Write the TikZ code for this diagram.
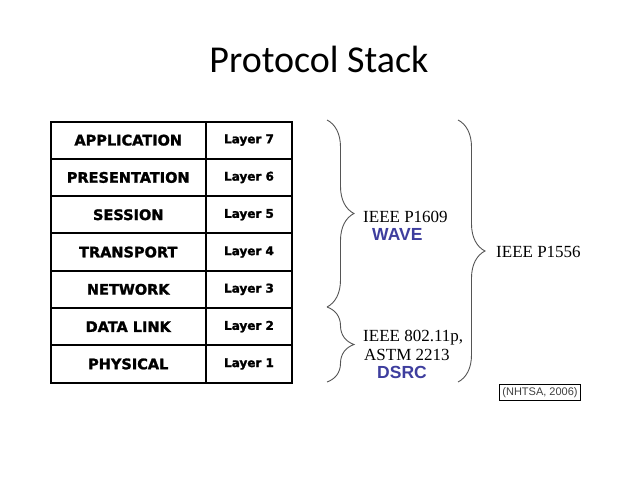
\documentclass[tikz,border=0pt]{standalone}
\usepackage{fontspec}
\usepackage{tikz}
\usetikzlibrary{positioning, decorations.pathreplacing}

\newfontfamily\titlefont{Carlito}
\newfontfamily\cellfont[FakeBold=1.6]{DejaVu Sans Bold}
\newfontfamily\seriffont{Liberation Serif}
\newfontfamily\armfont{Liberation Sans}

\definecolor{waveblue}{RGB}{62,62,158}
\definecolor{bracegray}{RGB}{85,85,85}

\begin{document}
\begin{tikzpicture}[
  x=1pt, y=-1pt,
  namecell/.style={draw, line width=2pt, outer sep=0pt, inner sep=0pt,
    minimum width=155.5pt, minimum height=37.3pt,
    font=\cellfont\fontsize{14.5}{16}\selectfont},
  layercell/.style={draw, line width=2pt, outer sep=0pt, inner sep=0pt,
    minimum width=86pt, minimum height=37.3pt,
    font=\cellfont\fontsize{12}{14}\selectfont},
  stdtext/.style={anchor=base west, inner sep=0pt, font=\seriffont\fontsize{17}{19}\selectfont},
  tagtext/.style={anchor=base west, inner sep=0pt, text=waveblue,
    font=\armfont\bfseries\fontsize{17.5}{19}\selectfont},
  curly/.style={draw=bracegray, line width=0.9pt, decorate,
    decoration={brace, amplitude=27pt}}
  ]

  \useasboundingbox[fill=white] (0,0) rectangle (638,479);

  % Title
  \node[anchor=base, inner sep=0pt, font=\titlefont\fontsize{38}{40}\selectfont] (title) at (319,72) {Protocol Stack};

  % Stack (layer names)
  \node[namecell, anchor=north west] (app) at (50.5,121.5) {APPLICATION};
  \node[namecell, below=0pt of app] (pres) {PRESENTATION};
  \node[namecell, below=0pt of pres] (sess) {SESSION};
  \node[namecell, below=0pt of sess] (trans) {TRANSPORT};
  \node[namecell, below=0pt of trans] (net) {NETWORK};
  \node[namecell, below=0pt of net] (link) {DATA LINK};
  \node[namecell, below=0pt of link] (phys) {PHYSICAL};

  % Stack (layer numbers)
  \node[layercell, right=0pt of app] (l7) {Layer 7};
  \node[layercell, right=0pt of pres] (l6) {Layer 6};
  \node[layercell, right=0pt of sess] (l5) {Layer 5};
  \node[layercell, right=0pt of trans] (l4) {Layer 4};
  \node[layercell, right=0pt of net] (l3) {Layer 3};
  \node[layercell, right=0pt of link] (l2) {Layer 2};
  \node[layercell, right=0pt of phys] (l1) {Layer 1};

  % Braces
  \coordinate (waveTop) at (327,120);
  \coordinate (waveBot) at (327,307);
  \coordinate (dsrcBot) at (327,382);
  \coordinate (allTop) at (458,120);
  \coordinate (allBot) at (458,382);
  \draw[curly] (waveTop) -- (waveBot);
  \draw[curly] (waveBot) -- (dsrcBot);
  \draw[curly] (allTop) -- (allBot);

  % Standards
  \node[stdtext] (p1609) at (363,222.7) {IEEE P1609};
  \node[tagtext] (wave) at (372,240.7) {WAVE};
  \node[stdtext] (p1556) at (496,257) {IEEE P1556};
  \node[stdtext] (dot11p) at (363,341) {IEEE 802.11p,};
  \node[stdtext] (astm) at (364,360) {ASTM 2213};
  \node[tagtext] (dsrc) at (377,378) {DSRC};

  % Source
  \node[draw, line width=1.5pt, inner sep=3pt, text=black!75,
    font=\armfont\fontsize{11}{12}\selectfont] (src) at (540,392.5) {(NHTSA, 2006)};

\end{tikzpicture}
\end{document}
